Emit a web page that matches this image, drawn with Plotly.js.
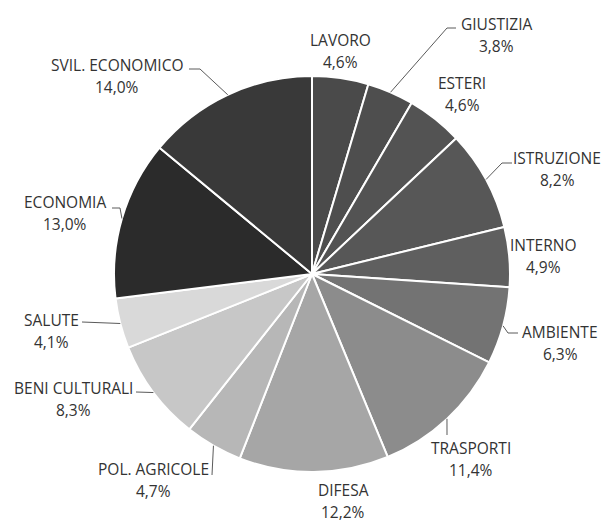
<!DOCTYPE html>
<html>
<head>
<meta charset="utf-8">
<script src="https://cdn.plot.ly/plotly-3.0.1.min.js"></script>
<style>html,body{margin:0;padding:0;background:#fff;}#chart{width:602px;height:523px;}</style>
</head>
<body>
<div id="chart"></div>
<script>
// ---- data ----
const labels = ['LAVORO','GIUSTIZIA','ESTERI','ISTRUZIONE','INTERNO','AMBIENTE','TRASPORTI','DIFESA','POL. AGRICOLE','BENI CULTURALI','SALUTE','ECONOMIA','SVIL. ECONOMICO'];
const values = [4.6, 3.8, 4.6, 8.2, 4.9, 6.3, 11.4, 12.2, 4.7, 8.3, 4.1, 13.0, 14.0];

// ---- styling / layout ----
const colors = ['#4a4a4a','#4e4e4e','#535353','#575757','#5f5f5f','#737373','#8c8c8c','#a6a6a6','#b7b7b7','#c7c7c7','#d9d9d9','#2b2b2b','#393939'];
const W = 602, H = 523;
const CX = 312, CY = 274, R = 198;   // pie centre and radius in pixels
// label block centres (name line) in pixels
const labelPos = [[340,40],[496,24],[462,83],[557,158],[543,245],[560,332],[471,448],[343,490],[153,469],[73,388],[51,320],[65,202],[117,65]];
const pctGap = 22;
// leader line points on the label side (pixels); the pie end is computed from the slice angle
const leaderPts = [null, [[456,28],[447,28]], null, [[512,163],[502,163]], null, [[518,333],[508,333]], [[447,435]], null, [[212,475]], [[136,392]], [[82,322]], [[112,208],[120,208]], [[189,69],[200,69]]];

const px = x => x / W;
const py = y => 1 - y / H;
const fmt = v => v.toFixed(1).replace('.', ',') + '%';

const total = values.reduce((a, b) => a + b, 0);
let cum = 0;
const mids = values.map(v => { const m = (cum + v / 2) / total * 2 * Math.PI; cum += v; return m; });

const font = {family: 'Open Sans, sans-serif', size: 15.5, color: '#333333'};
const annotations = [];
labels.forEach((lab, i) => {
  const [x, y] = labelPos[i];
  annotations.push({xref:'paper', yref:'paper', x: px(x), y: py(y), text: lab, showarrow:false, xanchor:'center', yanchor:'middle', borderpad:0, font});
  annotations.push({xref:'paper', yref:'paper', x: px(x), y: py(y + pctGap), text: fmt(values[i]), showarrow:false, xanchor:'center', yanchor:'middle', borderpad:0, font});
});

const shapes = [];
leaderPts.forEach((pts, i) => {
  if (!pts) return;
  const ex = CX + R * Math.sin(mids[i]);
  const ey = CY - R * Math.cos(mids[i]);
  const all = pts.concat([[ex, ey]]);
  const path = all.map((p, k) => (k ? 'L' : 'M') + px(p[0]) + ',' + py(p[1])).join(' ');
  shapes.push({type:'path', xref:'paper', yref:'paper', path, line:{color:'#5a5a5a', width:1}});
});

const trace = {
  type: 'pie',
  labels: labels,
  values: values,
  sort: false,
  direction: 'clockwise',
  rotation: 0,
  textinfo: 'none',
  hoverinfo: 'label+percent',
  marker: {colors: colors, line: {color: '#ffffff', width: 2}},
  domain: {x: [px(CX - R), px(CX + R)], y: [py(CY + R), py(CY - R)]},
  showlegend: false
};

const layout = {
  width: W, height: H,
  margin: {l:0, r:0, t:0, b:0},
  paper_bgcolor: '#ffffff',
  showlegend: false,
  annotations: annotations,
  shapes: shapes
};

Plotly.newPlot('chart', [trace], layout, {displayModeBar: false, staticPlot: true});
</script>
</body>
</html>
